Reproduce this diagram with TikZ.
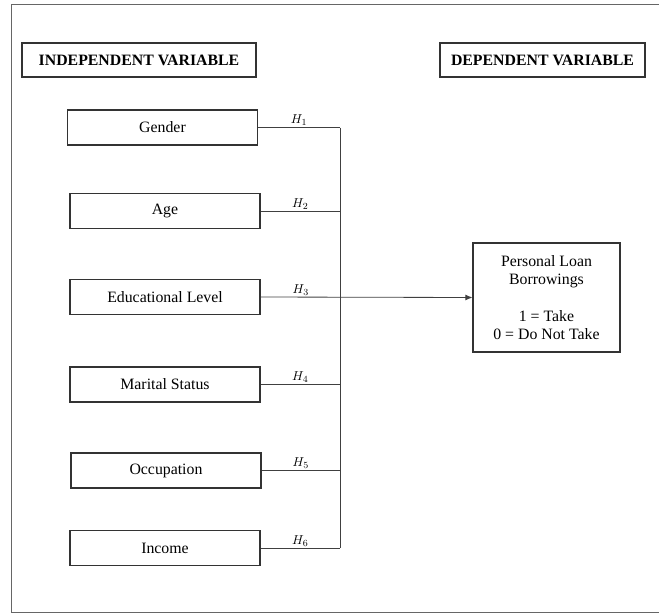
\documentclass[tikz,border=0pt]{standalone}
\usepackage{fontspec}
\setmainfont{Liberation Serif}
\usepackage{tikz}
\usetikzlibrary{positioning,arrows.meta}

\begin{document}
\begin{tikzpicture}[
  x=0.03cm, y=-0.03cm,
  font=\fontsize{13.5}{15.5}\selectfont,
  box/.style={draw=black!80, line width=0.9pt, align=center, inner sep=3pt},
  head/.style={box, font=\fontsize{13.5}{15.5}\selectfont\bfseries, minimum height=1.02cm},
  var/.style={box, minimum width=5.7cm, minimum height=1.05cm},
  lbl/.style={font=\fontsize{11}{13}\selectfont, inner sep=1pt},
  link/.style={draw=black!75, line width=0.7pt},
  arr/.style={link, -{Latex[length=6pt,width=5pt]}},
]
\useasboundingbox (0,0) rectangle (659,614);
\draw[black!60, line width=0.8pt] (659,4) -- (11,4) -- (11,612) -- (659,612);

% headers
\node[head, minimum width=7.02cm] (indep) at (139,60) {INDEPENDENT VARIABLE};
\node[head, minimum width=6.15cm] (dep) at (542.5,60) {DEPENDENT VARIABLE};

% independent variables
\node[var] (gender) at (162.5,127.5) {Gender};
\node[var] (age) at (165,211) {Age};
\node[var] (edu) at (165,297) {Educational Level};
\node[var] (marital) at (165,384.5) {Marital Status};
\node[var] (occup) at (166,470.5) {Occupation};
\node[var] (income) at (165,548) {Income};

% dependent variable
\node[box, minimum width=4.41cm, minimum height=3.27cm] (loan) at (546.5,297.5)
  {Personal Loan\\Borrowings\\[15.5pt]1 = Take\\0 = Do Not Take};

% junctions on the collecting line
\coordinate (j1) at (gender.east -| 340,0);
\coordinate (j2) at (age.east -| 340,0);
\coordinate (j3) at (edu.east -| 340,0);
\coordinate (j4) at (marital.east -| 340,0);
\coordinate (j5) at (occup.east -| 340,0);
\coordinate (j6) at (income.east -| 340,0);

\draw[link] (gender.east) -- (j1) node[lbl, midway, above] {$H_1$};
\draw[link] (age.east) -- (j2) node[lbl, midway, above] {$H_2$};
\draw[link] (marital.east) -- (j4) node[lbl, midway, above] {$H_4$};
\draw[link] (occup.east) -- (j5) node[lbl, midway, above] {$H_5$};
\draw[link] (income.east) -- (j6) node[lbl, midway, above] {$H_6$};
\draw[link] (j1) -- (j6);
\draw[arr] (edu.east) -- (loan.west) node[lbl, pos=0.19, above] {$H_3$};
\end{tikzpicture}
\end{document}
